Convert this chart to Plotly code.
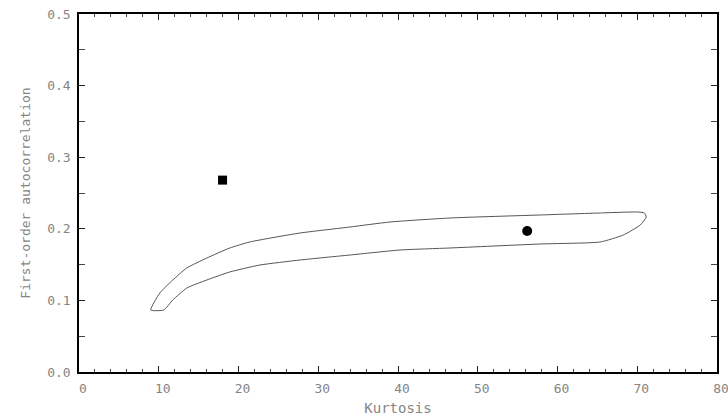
import plotly.graph_objects as go

# Boundary of the admissible region (kurtosis, first-order autocorrelation),
# traced as one closed outline: lower branch left->right, upper branch back.
region_kurtosis = [9.0, 10.63, 11.76, 13.52, 16.03, 18.91, 22.68, 27.70, 33.98, 40.26,
                   46.53, 57.83, 65.36, 68.25, 70.38, 71.13, 70.88, 70.0, 65.36, 57.83,
                   46.53, 39.0, 33.98, 27.70, 21.42, 18.91, 16.03, 13.52, 11.76, 10.13, 9.0]
region_autocorr = [0.0866, 0.0866, 0.1006, 0.1173, 0.1285, 0.1397, 0.1494, 0.1564, 0.1634, 0.1704,
                   0.1732, 0.1788, 0.1816, 0.1913, 0.2053, 0.2165, 0.2221, 0.2235, 0.2221, 0.2193,
                   0.2151, 0.2095, 0.2025, 0.1941, 0.1816, 0.1732, 0.1592, 0.1453, 0.1285, 0.1103, 0.0866]

# Sample estimates
square_point = (18.0, 0.268)
circle_point = (56.2, 0.197)

x_ticks = list(range(0, 90, 10))
y_ticks = [0.0, 0.1, 0.2, 0.3, 0.4, 0.5]
y_tick_text = ["0.0", "0.1", "0.2", "0.3", "0.4", "0.5"]

label_font = dict(family="DejaVu Sans Mono", size=13, color="#858585")

fig = go.Figure()
fig.add_trace(go.Scatter(x=region_kurtosis, y=region_autocorr, mode="lines",
                         line=dict(color="#555555", width=1, shape="spline", smoothing=0.5),
                         showlegend=False, hoverinfo="skip"))
fig.add_trace(go.Scatter(x=[square_point[0]], y=[square_point[1]], mode="markers",
                         marker=dict(symbol="square", size=9, color="black"),
                         showlegend=False))
fig.add_trace(go.Scatter(x=[circle_point[0]], y=[circle_point[1]], mode="markers",
                         marker=dict(symbol="circle", size=10, color="black"),
                         showlegend=False))

fig.update_layout(
    width=728, height=419,
    margin=dict(l=79, r=11, t=14, b=47),
    paper_bgcolor="white", plot_bgcolor="white",
    font=label_font,
)
fig.update_xaxes(
    range=[0, 80], tickvals=x_ticks, ticks="inside", ticklen=6, tickwidth=1,
    tickcolor="#222", showline=True, linecolor="black", linewidth=1.5, mirror="ticks",
    showgrid=False, zeroline=False, ticklabelshift=4, ticklabelstandoff=4,
    automargin=False, ticklabeloverflow="allow",
    minor=dict(dtick=2, ticks="inside", ticklen=3, tickcolor="#444", showgrid=False),
    title=dict(text="Kurtosis", font=dict(family="DejaVu Sans Mono", size=14, color="#858585"),
               standoff=8),
)
fig.update_yaxes(
    range=[0, 0.5], tickvals=y_ticks, ticktext=y_tick_text, ticks="inside", ticklen=6,
    tickwidth=1, tickcolor="#222", showline=True, linecolor="black", linewidth=1.5,
    mirror="ticks", showgrid=False, zeroline=False, ticklabelstandoff=4,
    automargin=False, ticklabeloverflow="allow",
    minor=dict(dtick=0.05, ticks="inside", ticklen=6, tickcolor="#444", showgrid=False),
    title=dict(text="First-order autocorrelation",
               font=dict(family="DejaVu Sans Mono", size=13, color="#858585"), standoff=14),
)

fig.write_html("out.html")
